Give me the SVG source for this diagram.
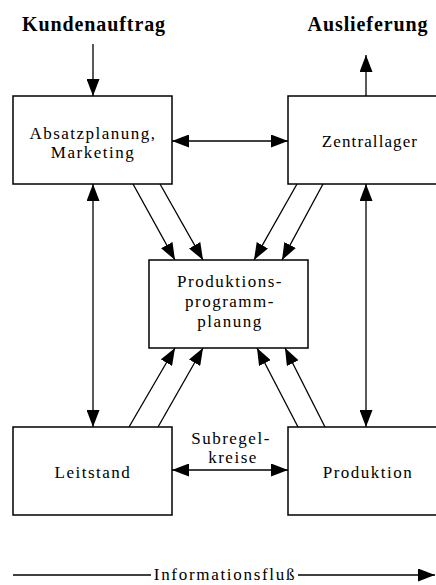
<svg xmlns="http://www.w3.org/2000/svg" width="436" height="585" viewBox="0 0 436 585">
<style>
.box{fill:#fff;stroke:#000;stroke-width:1.5}
.ln{stroke:#000;stroke-width:1.3;fill:none}
.t{font-family:"Liberation Serif",serif;font-size:17px;fill:#000;text-anchor:middle;letter-spacing:1.5px}
.h{font-family:"Liberation Serif",serif;font-size:20px;font-weight:bold;fill:#000;text-anchor:middle;letter-spacing:0.9px}
</style>
<defs>
<marker id="ah" markerUnits="userSpaceOnUse" viewBox="0 0 17 13" markerWidth="17" markerHeight="13" refX="17" refY="6.5" orient="auto-start-reverse">
<path d="M0,0 L17,6.5 L0,13 Z" fill="#000"/>
</marker>
</defs>
<rect width="436" height="585" fill="#fff"/>
<g id="connectors">
<line class="ln" x1="93" y1="44" x2="93" y2="96" marker-end="url(#ah)"/>
<line class="ln" x1="366" y1="96" x2="366" y2="55" marker-end="url(#ah)"/>
<line class="ln" x1="172" y1="141" x2="288" y2="141" marker-start="url(#ah)" marker-end="url(#ah)"/>
<line class="ln" x1="172" y1="470" x2="288" y2="470" marker-start="url(#ah)" marker-end="url(#ah)"/>
<line class="ln" x1="93" y1="184" x2="93" y2="427" marker-start="url(#ah)" marker-end="url(#ah)"/>
<line class="ln" x1="366" y1="184" x2="366" y2="427" marker-start="url(#ah)" marker-end="url(#ah)"/>
<line class="ln" x1="133" y1="184" x2="175" y2="260" marker-end="url(#ah)"/>
<line class="ln" x1="160" y1="184" x2="203" y2="260" marker-end="url(#ah)"/>
<line class="ln" x1="297" y1="184" x2="254" y2="260" marker-end="url(#ah)"/>
<line class="ln" x1="323" y1="184" x2="282" y2="260" marker-end="url(#ah)"/>
<line class="ln" x1="129" y1="427" x2="175" y2="348" marker-end="url(#ah)"/>
<line class="ln" x1="158" y1="427" x2="203" y2="348" marker-end="url(#ah)"/>
<line class="ln" x1="298" y1="427" x2="257" y2="348" marker-end="url(#ah)"/>
<line class="ln" x1="325" y1="427" x2="285" y2="348" marker-end="url(#ah)"/>
<line class="ln" x1="13" y1="575" x2="151" y2="575"/>
<line class="ln" x1="298" y1="575" x2="435" y2="575" marker-end="url(#ah)"/>
</g>
<g id="kundenauftrag"><text class="h" x="94" y="31">Kundenauftrag</text></g>
<g id="auslieferung"><text class="h" x="368" y="31">Auslieferung</text></g>
<g id="absatzplanung">
<rect class="box" x="13" y="96" width="159" height="88"/>
<text class="t" x="93" y="139">Absatzplanung,</text>
<text class="t" x="93" y="158">Marketing</text>
</g>
<g id="zentrallager">
<rect class="box" x="288" y="96" width="160" height="88"/>
<text class="t" x="370" y="147" style="letter-spacing:1.1px">Zentrallager</text>
</g>
<g id="produktionsprogrammplanung">
<rect class="box" x="149" y="260" width="159" height="88"/>
<text class="t" x="230" y="287">Produktions-</text>
<text class="t" x="230" y="307">programm-</text>
<text class="t" x="230" y="327">planung</text>
</g>
<g id="leitstand">
<rect class="box" x="13" y="427" width="159" height="88"/>
<text class="t" x="93" y="478">Leitstand</text>
</g>
<g id="produktion">
<rect class="box" x="288" y="427" width="160" height="88"/>
<text class="t" x="368" y="478">Produktion</text>
</g>
<g id="subregelkreise">
<text class="t" x="231" y="444">Subregel-</text>
<text class="t" x="233" y="463">kreise</text>
</g>
<g id="informationsfluss">
<text class="t" x="225" y="580" style="letter-spacing:1.7px">Informationsfluß</text>
</g>
</svg>
